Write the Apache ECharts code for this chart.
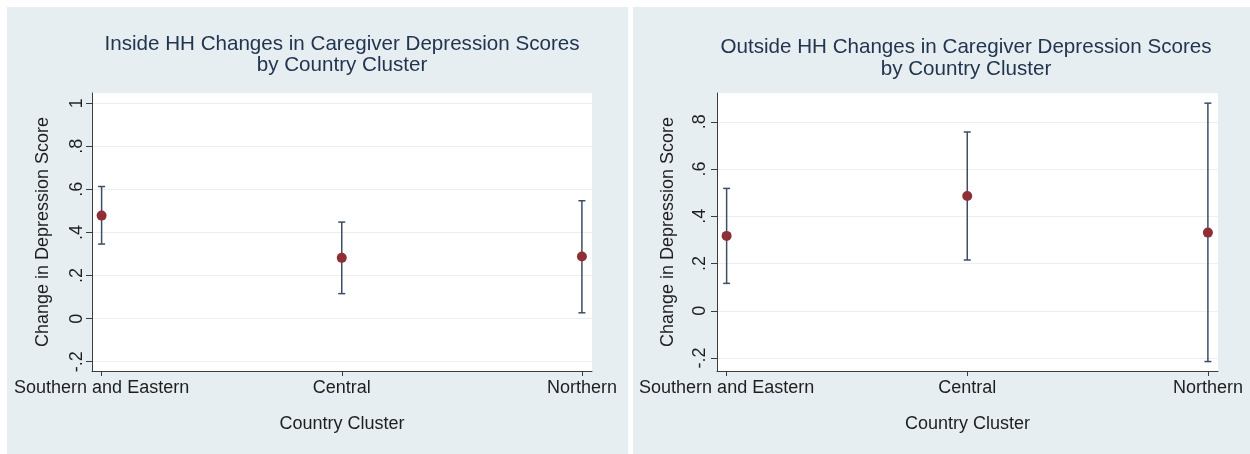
<!DOCTYPE html>
<html>
<head>
<meta charset="utf-8">
<script src="https://cdn.jsdelivr.net/npm/echarts@6/dist/echarts.min.js"></script>
<style>
html,body{margin:0;padding:0;background:#fff;}
#chart{width:1250px;height:454px;}
</style>
</head>
<body>
<div id="chart"></div>
<script>
// ---- data ----
const categories = ['Southern and Eastern', 'Central', 'Northern'];
const insideMean  = [0.478, 0.282, 0.288];
const insideLower = [0.346, 0.116, 0.027];
const insideUpper = [0.613, 0.448, 0.547];
const outsideMean  = [0.317, 0.486, 0.331];
const outsideLower = [0.116, 0.215, -0.215];
const outsideUpper = [0.518, 0.757, 0.879];
const insideYTicks  = [-0.2, 0, 0.2, 0.4, 0.6, 0.8, 1];
const outsideYTicks = [-0.2, 0, 0.2, 0.4, 0.6, 0.8];
const titles = [
  'Inside HH Changes in Caregiver Depression Scores\nby Country Cluster',
  'Outside HH Changes in Caregiver Depression Scores\nby Country Cluster'
];
const xName = 'Country Cluster';
const yName = 'Change in Depression Score';

// ---- styling ----
const FONT = '"Liberation Sans", Arial, Helvetica, sans-serif';
const TITLE_COLOR = '#22354f';
const TEXT_COLOR = '#1e1e1e';
const AXIS_COLOR = '#3c3c3c';
const BAR_COLOR = '#3b4e66';
const DOT_COLOR = '#8e2f36';
const GRID_LINE = '#e9eff2';
const PANEL_BG = '#e7eef2';

function stataLabel(v) {
  const r = Math.round(v * 10) / 10;
  if (r === 0) return '0';
  if (Math.abs(r) === 1) return String(r);
  return String(r).replace('0.', '.');
}

const grids = [
  {left: 92, top: 93, width: 500, height: 278},
  {left: 717, top: 93, width: 501, height: 278}
];

function makeXAxis(gi) {
  return {
    type: 'value', gridIndex: gi, min: -0.04, max: 2.042,
    name: xName, nameLocation: 'middle', nameGap: 44,
    nameTextStyle: {fontFamily: FONT, fontSize: 18, color: TEXT_COLOR},
    axisLine: {show: true, onZero: false, lineStyle: {color: AXIS_COLOR, width: 1}},
    axisTick: {show: true, length: 5, customValues: [0, 1, 2], lineStyle: {color: AXIS_COLOR, width: 1}},
    axisLabel: {show: true, customValues: [0, 1, 2], margin: 8, fontFamily: FONT, fontSize: 18, color: TEXT_COLOR,
      formatter: v => categories[Math.round(v)]},
    splitLine: {show: false}
  };
}
function makeYAxis(gi, min, max, ticks, labelMargin) {
  return {
    type: 'value', gridIndex: gi, min: min, max: max, minInterval: 0.2, maxInterval: 0.2,
    name: yName, nameLocation: 'middle', nameGap: 40,
    nameTextStyle: {fontFamily: FONT, fontSize: 18, color: TEXT_COLOR},
    axisLine: {show: true, onZero: false, lineStyle: {color: AXIS_COLOR, width: 1}},
    axisTick: {show: true, length: 6, customValues: ticks, lineStyle: {color: AXIS_COLOR, width: 1}},
    axisLabel: {show: true, customValues: ticks, rotate: 90, margin: labelMargin, fontFamily: FONT, fontSize: 18,
      color: TEXT_COLOR, showMinLabel: true, showMaxLabel: true, formatter: stataLabel},
    splitLine: {show: true, showMinLine: true, showMaxLine: true, lineStyle: {color: GRID_LINE, width: 1}}
  };
}

function errorSeries(gi, lower, upper) {
  return {
    type: 'custom', xAxisIndex: gi, yAxisIndex: gi, silent: true,
    data: categories.map((c, i) => [i, lower[i], upper[i]]),
    encode: {x: 0, y: [1, 2]},
    renderItem: function (params, api) {
      const x = api.value(0);
      const lo = api.coord([x, api.value(1)]);
      const hi = api.coord([x, api.value(2)]);
      const hw = 3.5;
      const style = {stroke: BAR_COLOR, lineWidth: 1.5, fill: null};
      return {
        type: 'group',
        children: [
          {type: 'line', shape: {x1: lo[0], y1: lo[1], x2: hi[0], y2: hi[1]}, style: style},
          {type: 'line', shape: {x1: lo[0] - hw, y1: lo[1], x2: lo[0] + hw, y2: lo[1]}, style: style},
          {type: 'line', shape: {x1: hi[0] - hw, y1: hi[1], x2: hi[0] + hw, y2: hi[1]}, style: style}
        ]
      };
    },
    z: 2
  };
}
function dotSeries(gi, mean) {
  return {
    type: 'scatter', xAxisIndex: gi, yAxisIndex: gi, symbol: 'circle', symbolSize: 10,
    itemStyle: {color: DOT_COLOR, opacity: 1},
    data: categories.map((c, i) => [i, mean[i]]),
    z: 3
  };
}

const chart = echarts.init(document.getElementById('chart'), null, {renderer: 'canvas'});
chart.setOption({
  animation: false,
  backgroundColor: '#ffffff',
  graphic: [
    {type: 'rect', z: -100, silent: true, shape: {x: 7, y: 7, width: 621, height: 447}, style: {fill: PANEL_BG}},
    {type: 'rect', z: -100, silent: true, shape: {x: 633, y: 7, width: 617, height: 447}, style: {fill: PANEL_BG}}
  ],
  title: [
    {text: titles[0], left: 337, top: 28.5, textAlign: 'center',
      textStyle: {fontFamily: FONT, fontSize: 20.6, fontWeight: 'normal', color: TITLE_COLOR, lineHeight: 21.5}},
    {text: titles[1], left: 961, top: 31, textAlign: 'center',
      textStyle: {fontFamily: FONT, fontSize: 20.6, fontWeight: 'normal', color: TITLE_COLOR, lineHeight: 22}}
  ],
  grid: grids.map(g => Object.assign({show: true, backgroundColor: '#ffffff', borderWidth: 0, containLabel: false}, g)),
  xAxis: [makeXAxis(0), makeXAxis(1)],
  yAxis: [makeYAxis(0, -0.243, 1.047, insideYTicks, 6), makeYAxis(1, -0.255, 0.922, outsideYTicks, 8)],
  series: [
    errorSeries(0, insideLower, insideUpper),
    dotSeries(0, insideMean),
    errorSeries(1, outsideLower, outsideUpper),
    dotSeries(1, outsideMean)
  ]
});
</script>
</body>
</html>
